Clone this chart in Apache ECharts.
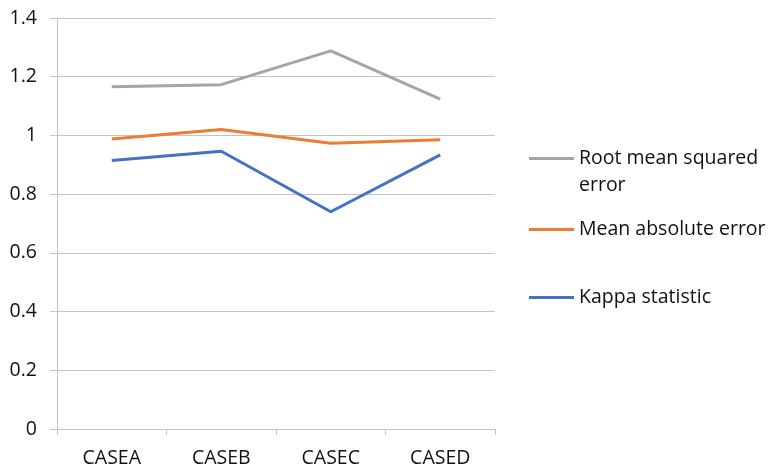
<!DOCTYPE html>
<html>
<head>
<meta charset="utf-8">
<script src="https://cdn.jsdelivr.net/npm/echarts@6/dist/echarts.min.js"></script>
<style>
  html, body { margin: 0; padding: 0; background: #fff; }
  #chart { width: 771px; height: 468px; }
</style>
</head>
<body>
<div id="chart"></div>
<script>
// Categories and metric values per case
const categories = ['CASEA', 'CASEB', 'CASEC', 'CASED'];
const rmse = [1.166, 1.173, 1.288, 1.124];
const mae = [0.988, 1.020, 0.973, 0.985];
const kappa = [0.915, 0.946, 0.740, 0.934];
const yTicks = [0, 0.2, 0.4, 0.6, 0.8, 1, 1.2, 1.4];

const FONT = '"Open Sans", sans-serif';
const TEXT_COLOR = '#111';
const GRID_COLOR = '#c4c4c4';
const FONT_SIZE = 19.5;
const LINE_H = 27;

const chart = echarts.init(document.getElementById('chart'), null, { renderer: 'canvas' });

// One legend block per series so each entry can sit at its own row.
// The long name wraps; a blank leading line keeps the swatch level with its first line.
function legendFor(name, top) {
  return {
    orient: 'vertical',
    left: 529,
    top: top,
    padding: 0,
    icon: 'rect',
    itemWidth: 45,
    itemHeight: 3,
    selectedMode: false,
    data: [name],
    formatter: n => n === 'Root mean squared error' ? ' \nRoot mean squared\nerror' : n,
    textStyle: { fontFamily: FONT, fontSize: FONT_SIZE, color: TEXT_COLOR, lineHeight: LINE_H }
  };
}

chart.setOption({
  animation: false,
  grid: { left: 57, right: 276, top: 18, bottom: 39 },
  legend: [
    legendFor('Root mean squared error', 118),
    legendFor('Mean absolute error', 216),
    legendFor('Kappa statistic', 284)
  ],
  xAxis: {
    type: 'category',
    data: categories,
    boundaryGap: true,
    axisLine: { show: true, lineStyle: { color: GRID_COLOR, width: 1 } },
    axisTick: { show: true, length: 6, lineStyle: { color: GRID_COLOR } },
    axisLabel: { fontFamily: FONT, fontSize: FONT_SIZE, color: TEXT_COLOR, margin: 19 }
  },
  yAxis: {
    type: 'value',
    min: yTicks[0],
    max: yTicks[yTicks.length - 1],
    interval: 0.2,
    axisLine: { show: true, lineStyle: { color: GRID_COLOR, width: 1 } },
    axisTick: { show: true, length: 7, lineStyle: { color: GRID_COLOR } },
    splitLine: { show: true, lineStyle: { color: GRID_COLOR, width: 1 } },
    axisLabel: {
      fontFamily: FONT, fontSize: FONT_SIZE, color: TEXT_COLOR, margin: 20,
      formatter: v => String(Math.round(v * 10) / 10)
    }
  },
  series: [
    { name: 'Root mean squared error', type: 'line', data: rmse, symbol: 'none',
      lineStyle: { color: '#a5a5a5', width: 3 }, itemStyle: { color: '#a5a5a5' } },
    { name: 'Mean absolute error', type: 'line', data: mae, symbol: 'none',
      lineStyle: { color: '#ed7d31', width: 3 }, itemStyle: { color: '#ed7d31' } },
    { name: 'Kappa statistic', type: 'line', data: kappa, symbol: 'none',
      lineStyle: { color: '#4472c4', width: 3 }, itemStyle: { color: '#4472c4' } }
  ]
});
</script>
</body>
</html>
